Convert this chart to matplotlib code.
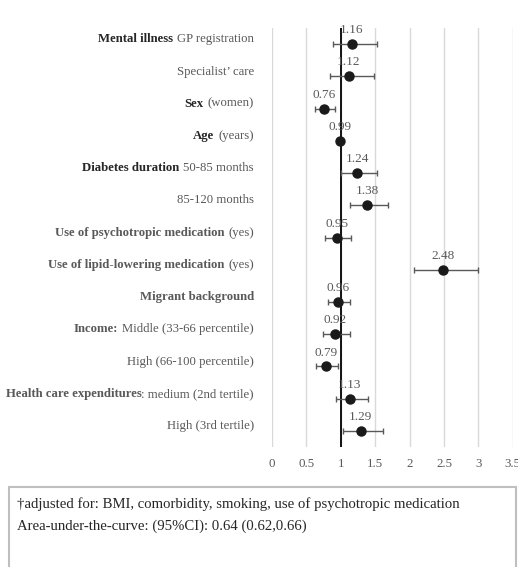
import matplotlib.pyplot as plt
from matplotlib.offsetbox import TextArea, HPacker, AnnotationBbox
from matplotlib.patches import Rectangle

plt.rcParams['font.family'] = ['Liberation Serif', 'DejaVu Serif']

# odds ratios with 95% CI, one row per predictor
bold_parts = ['Mental illness', '', 'Sex', 'Age', 'Diabetes duration', '',
              'Use of psychotropic medication', 'Use of lipid-lowering medication',
              'Migrant background', 'Income:', '', 'Health care expenditures', '']
plain_parts = ['GP registration', 'Specialist\u2019 care', '(women)', '(years)', '50-85 months',
               '85-120 months', '(yes)', '(yes)', '', 'Middle (33-66 percentile)',
               'High (66-100 percentile)', ': medium (2nd tertile)', 'High (3rd tertile)']
odds = [1.16, 1.12, 0.76, 0.99, 1.24, 1.38, 0.95, 2.48, 0.96, 0.92, 0.79, 1.13, 1.29]
ci_low = [0.89, 0.85, 0.63, 0.98, 1.01, 1.13, 0.77, 2.06, 0.81, 0.74, 0.64, 0.93, 1.03]
ci_high = [1.53, 1.49, 0.91, 1.00, 1.52, 1.69, 1.15, 3.00, 1.14, 1.13, 0.96, 1.39, 1.62]
x_ticks = [0, 0.5, 1, 1.5, 2, 2.5, 3, 3.5]

footnotes = ['\u2020adjusted for: BMI, comorbidity, smoking, use of psychotropic medication',
             'Area-under-the-curve: (95%CI): 0.64 (0.62,0.66)']

gray = '#595959'
fig = plt.figure(figsize=(5.18, 5.67), dpi=100)
ax = fig.add_axes([0.525, 0.2116, 0.465, 0.739])

rows = list(range(len(odds)))
for x in x_ticks:
    ax.axvline(x, color='#d9d9d9', lw=1, zorder=0)
ax.axvline(1, color='black', lw=1.3, zorder=1)

err = [[o - lo for o, lo in zip(odds, ci_low)], [hi - o for o, hi in zip(odds, ci_high)]]
ax.errorbar(odds, rows, xerr=err, fmt='none', ecolor=gray, elinewidth=1, capsize=2.5, zorder=2)
ax.plot(odds, rows, 'o', color='#1a1a1a', markersize=6.5, zorder=3)

for r, o in zip(rows, odds):
    ax.annotate(f'{o:.2f}', (o, r), xytext=(0, 10), textcoords='offset points',
                ha='center', va='center', fontsize=9.5, color=gray)

# row labels: bold lead-in followed by plain text
dark_rows = {0, 2, 3, 4}
for r, (b, p) in zip(rows, zip(bold_parts, plain_parts)):
    parts = []
    if b:
        parts.append(TextArea(b, textprops=dict(fontsize=9.2, fontweight='bold',
                                                color='#262626' if r in dark_rows else gray)))
    if p:
        parts.append(TextArea(p, textprops=dict(fontsize=9.2, color=gray)))
    sep = 0 if p.startswith(':') else 3
    box = HPacker(children=parts, align='baseline', pad=0, sep=sep)
    ab = AnnotationBbox(box, (-0.075, r - 0.15), xycoords=ax.get_yaxis_transform(),
                        box_alignment=(1, 0.5), frameon=False, pad=0, annotation_clip=False)
    ax.add_artist(ab)

ax.set_xlim(0, 3.5)
ax.set_ylim(len(odds) - 0.5, -0.5)
ax.set_xticks(x_ticks)
ax.set_xticklabels([f'{t:g}' for t in x_ticks])
ax.set_yticks([])
ax.tick_params(axis='x', length=0, labelsize=9.3, labelcolor=gray, pad=8)
for s in ax.spines.values():
    s.set_visible(False)

# footnote box
fig.patches.append(Rectangle((0.0174, -0.05), 0.979, 0.1911, transform=fig.transFigure,
                             fill=False, edgecolor='#bfbfbf', lw=1.5))
fig.text(0.033, 0.1111, footnotes[0], fontsize=10.6, color='#262626', va='center')
fig.text(0.033, 0.0723, footnotes[1], fontsize=10.6, color='#262626', va='center')

fig.savefig('out.png', dpi=100)
